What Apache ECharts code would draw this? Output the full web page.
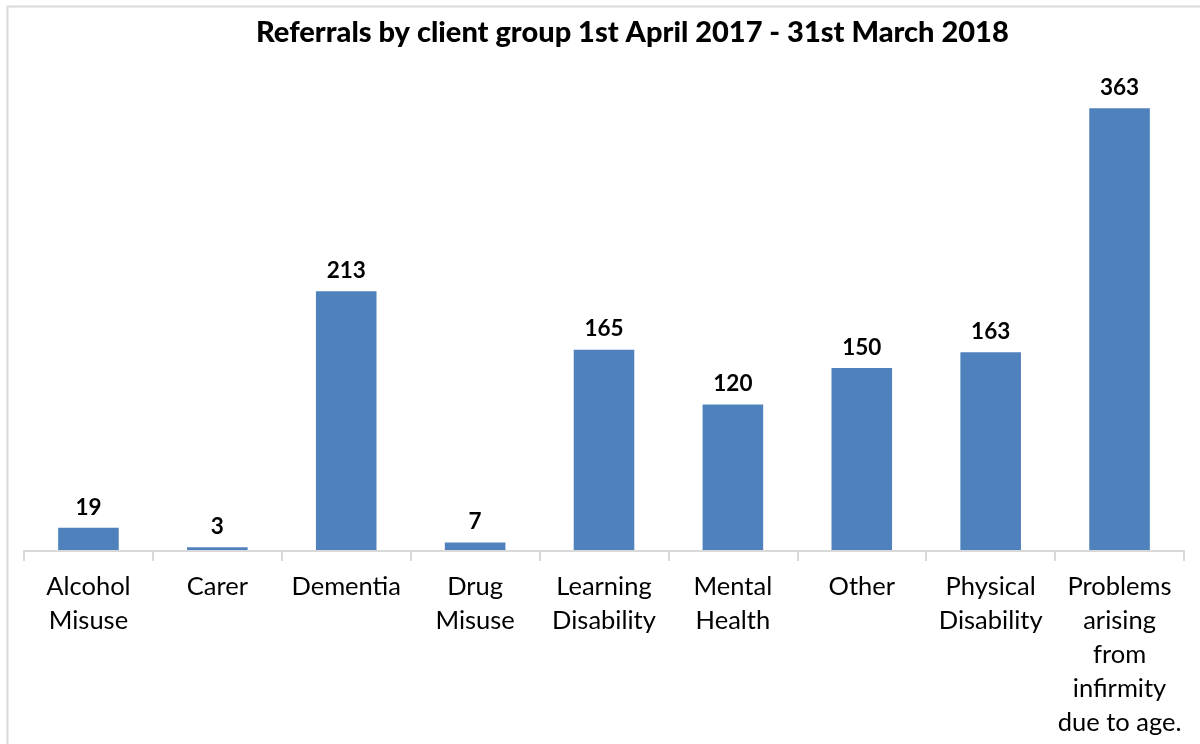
<!DOCTYPE html>
<html>
<head>
<meta charset="utf-8">
<script src="https://cdn.jsdelivr.net/npm/echarts@6/dist/echarts.min.js"></script>
<style>
  html, body { margin: 0; padding: 0; background: #fff; overflow: hidden; }
  #main { width: 1200px; height: 744px; }
</style>
</head>
<body>
<div id="main"></div>
<script>
// data
const chartTitle = 'Referrals by client group 1st April 2017 - 31st March 2018'
const categories = [
  'Alcohol\nMisuse',
  'Carer',
  'Dementia',
  'Drug\nMisuse',
  'Learning\nDisability',
  'Mental\nHealth',
  'Other',
  'Physical\nDisability',
  'Problems\narising\nfrom\ninfirmity\ndue to age.'
]
const referrals = [19, 3, 213, 7, 165, 120, 150, 163, 363]

var chart = echarts.init(document.getElementById('main'))

chart.setOption({
  animation: false,
  backgroundColor: '#ffffff',
  textStyle: { fontFamily: 'Lato' },
  title: {
    text: chartTitle,
    left: 251,
    top: 13,
    textStyle: { fontFamily: 'Lato', fontWeight: 900, fontSize: 29, color: '#000' }
  },
  // the chart area frame
  graphic: [{
    type: 'rect',
    shape: { x: 7.5, y: 6.5, width: 1300, height: 900 },
    style: { fill: 'none', stroke: '#d9d9d9', lineWidth: 2 },
    silent: true
  }],
  grid: { left: 24, right: 16, top: 63, bottom: 193, containLabel: false },
  xAxis: {
    type: 'category',
    data: categories,
    z: 3,
    axisLine: { lineStyle: { color: '#d9d9d9', width: 2 } },
    axisTick: { show: true, length: 10, lineStyle: { color: '#d9d9d9', width: 2 } },
    axisLabel: {
      interval: 0,
      margin: 19,
      fontSize: 25.5,
      lineHeight: 34,
      color: '#000',
      fontFamily: 'Lato'
    }
  },
  yAxis: {
    type: 'value',
    min: 0,
    max: 400,
    show: false,
    splitLine: { show: false }
  },
  series: [{
    type: 'bar',
    data: referrals,
    barWidth: '47%',
    itemStyle: { color: '#4f81bd' },
    label: {
      show: true,
      position: 'top',
      distance: 9,
      fontFamily: 'Lato',
      fontWeight: 'bold',
      fontSize: 22.5,
      color: '#000'
    }
  }]
})
</script>
</body>
</html>
